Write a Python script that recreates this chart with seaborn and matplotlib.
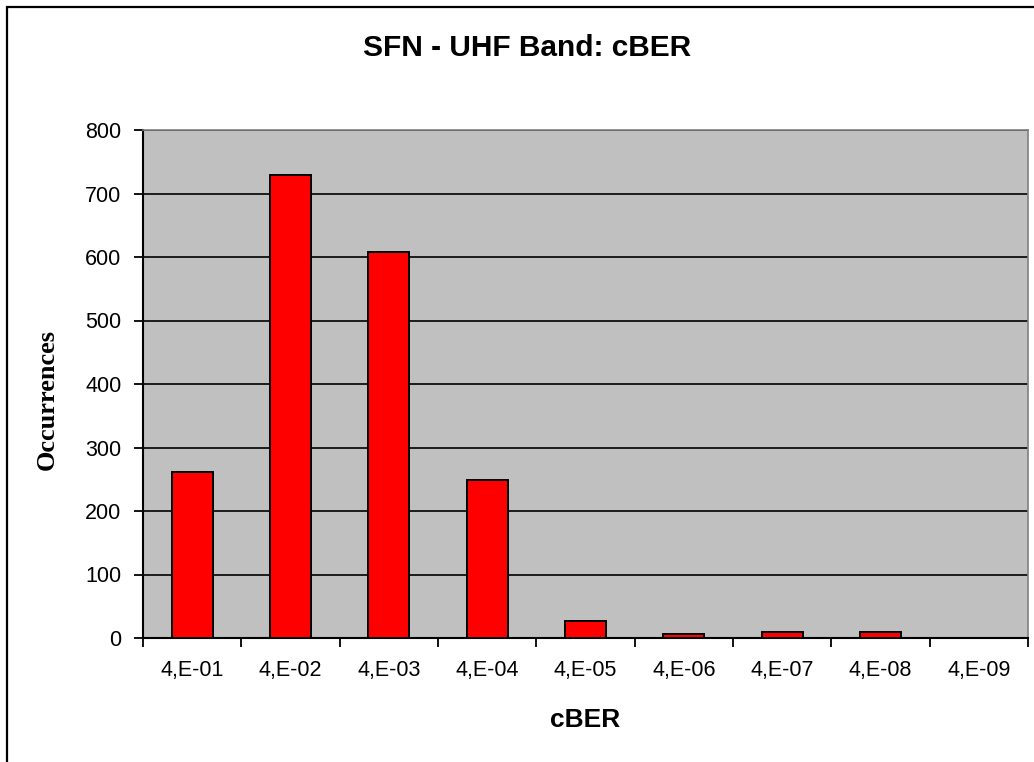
import matplotlib
matplotlib.use("Agg")
import matplotlib.pyplot as plt
import seaborn as sns
import pandas as pd
import numpy as np
from matplotlib.patches import Rectangle

# cBER histogram for the SFN UHF band
categories = ["4,E-01", "4,E-02", "4,E-03", "4,E-04", "4,E-05",
              "4,E-06", "4,E-07", "4,E-08", "4,E-09"]
occurrences = [261, 729, 608, 249, 26, 6, 9, 9, 0]
y_ticks = [0, 100, 200, 300, 400, 500, 600, 700, 800]

df = pd.DataFrame({"cBER": categories, "Occurrences": occurrences})

sns.set_theme(style="white")
plt.rcParams["font.family"] = ["Liberation Sans", "DejaVu Sans"]
plt.rcParams["text.color"] = "black"
plt.rcParams["xtick.color"] = "black"
plt.rcParams["ytick.color"] = "black"
plt.rcParams["xtick.labelcolor"] = "black"
plt.rcParams["ytick.labelcolor"] = "black"

W, H = 1034, 762
fig = plt.figure(figsize=(W / 100, H / 100), dpi=100)
fig.patch.set_facecolor("white")

# outer chart frame (left/top edges visible)
fig.add_artist(Rectangle((7 / W, -0.05), 1.2, 1 - 7 / H + 0.05,
                         transform=fig.transFigure, fill=False,
                         edgecolor="black", linewidth=1.6))

left, right, top, bottom = 143, 1028, 130, 638
ax = fig.add_axes([left / W, 1 - bottom / H, (right - left) / W, (bottom - top) / H])
ax.set_facecolor("#C0C0C0")

sns.barplot(data=df, x="cBER", y="Occurrences", color="#FF0000",
            edgecolor="black", linewidth=1.4, width=0.42, saturation=1,
            ax=ax, zorder=3)

ax.set_xlim(-0.5, len(categories) - 0.5)
ax.set_ylim(0, 800)
ax.set_yticks(y_ticks)
ax.set_yticklabels([str(v) for v in y_ticks])

# horizontal gridlines
ax.yaxis.grid(True, color="black", linewidth=1.2)
ax.xaxis.grid(False)
ax.set_axisbelow(True)

# category boundary tick marks
ax.set_xticks(np.arange(len(categories)))
ax.set_xticklabels(categories)
ax.set_xticks(np.arange(-0.5, len(categories)), minor=True)
ax.tick_params(axis="x", which="major", length=0, pad=16, labelsize=15.5,
               labelcolor="black")
ax.tick_params(axis="x", which="minor", length=6.5, width=1.3, color="black",
               direction="out", bottom=True)
ax.tick_params(axis="y", which="major", length=6.5, width=1.3, color="black",
               direction="out", left=True, pad=9, labelsize=15.5,
               labelcolor="black")

for side in ["left", "bottom"]:
    ax.spines[side].set_color("black")
    ax.spines[side].set_linewidth(1.5)
for side in ["top", "right"]:
    ax.spines[side].set_color("#808080")
    ax.spines[side].set_linewidth(1.2)

ax.set_xlabel("")
ax.set_ylabel("")

fig.text(527 / W, 1 - 48 / H, "SFN - UHF Band: cBER", ha="center", va="center",
         fontsize=21.5, fontweight="bold", color="black")
fig.text(585 / W, 1 - 720 / H, "cBER", ha="center", va="center",
         fontsize=19, fontweight="bold", color="black")
fig.text(47 / W, 1 - 400 / H, "Occurrences", ha="center", va="center",
         rotation=90, fontsize=19, fontweight="bold", color="black",
         family=["Liberation Serif", "DejaVu Serif"])

fig.savefig("out.png", dpi=100)
